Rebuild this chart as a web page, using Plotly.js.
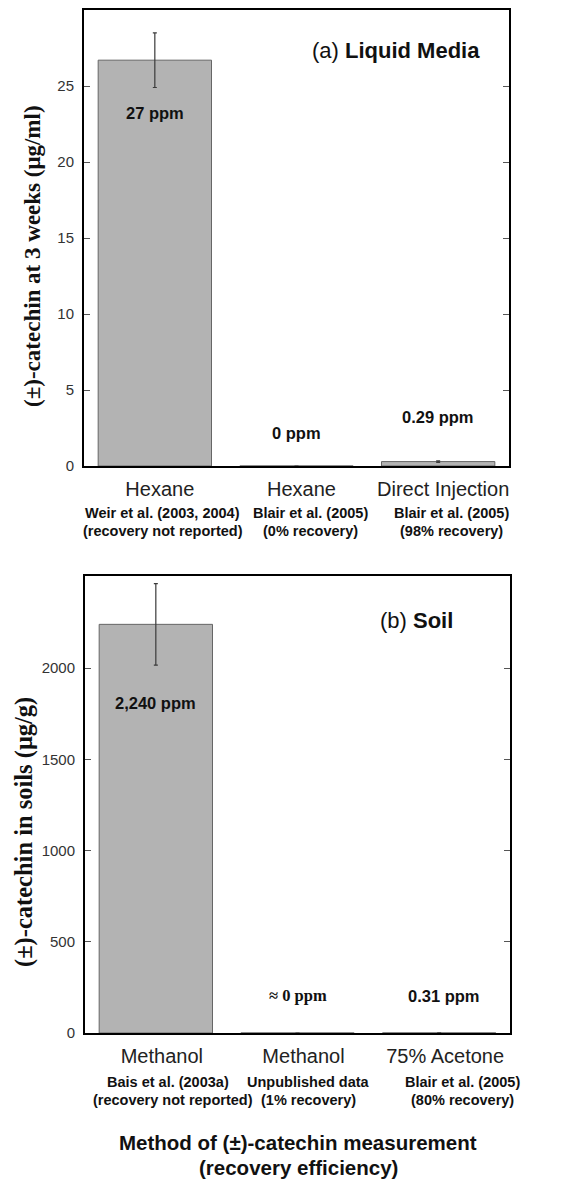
<!DOCTYPE html>
<html>
<head>
<meta charset="utf-8">
<script src="https://cdn.plot.ly/plotly-3.0.1.min.js"></script>
<style>html,body{margin:0;padding:0;background:#fff;}#chart{width:575px;height:1179px;}</style>
</head>
<body>
<div id="chart"></div>
<script>
// ---- Data ----
const positions = [0, 1, 2];

const methodsA = ['Hexane', 'Hexane', 'Direct Injection'];
const sourcesA = ['Weir et al. (2003, 2004)', 'Blair et al. (2005)', 'Blair et al. (2005)'];
const recoveryA = ['(recovery not reported)', '(0% recovery)', '(98% recovery)'];
const valuesA = [26.7, 0, 0.29];
const errorsA = [1.8, 0, 0.05];
const valueLabelsA = ['27 ppm', '0 ppm', '0.29 ppm'];
const yTicksA = [0, 5, 10, 15, 20, 25];

const methodsB = ['Methanol', 'Methanol', '75% Acetone'];
const sourcesB = ['Bais et al. (2003a)', 'Unpublished data', 'Blair et al. (2005)'];
const recoveryB = ['(recovery not reported)', '(1% recovery)', '(80% recovery)'];
const valuesB = [2240, 0, 0.31];
const errorsB = [223, 0, 0];
const valueLabelsB = ['2,240 ppm', '\u2248 0 ppm', '0.31 ppm'];
const yTicksB = [0, 500, 1000, 1500, 2000];

const yTitleA = '(\u00b1)-catechin at 3 weeks (\u03bcg/ml)';
const yTitleB = '(\u00b1)-catechin in soils (\u03bcg/g)';
const panelA = '(a) <b>Liquid Media</b>';
const panelB = '(b) <b>Soil</b>';
const xTitle = ['Method of (\u00b1)-catechin measurement', '(recovery efficiency)'];

// ---- Layout helpers ----
const W = 575, H = 1179;
const px = v => v / W;
const py = v => 1 - v / H;
const SANS = 'Liberation Sans, Arial, sans-serif';
const SERIF = 'Liberation Serif, Times New Roman, serif';

const barStyle = {
  type: 'bar',
  marker: {color: '#b3b3b3', line: {color: '#666', width: 1}},
  width: 0.8,
  showlegend: false,
  hoverinfo: 'skip'
};

const traces = [
  Object.assign({}, barStyle, {
    x: positions, y: valuesA, xaxis: 'x', yaxis: 'y',
    error_y: {type: 'data', array: errorsA, visible: true, color: '#3a3a3a', thickness: 1.2, width: 2}
  }),
  Object.assign({}, barStyle, {
    x: positions, y: valuesB, xaxis: 'x2', yaxis: 'y2',
    error_y: {type: 'data', array: errorsB, visible: true, color: '#3a3a3a', thickness: 1.2, width: 2}
  })
];

function xAxis(domain, labels, shift) {
  return {
    domain: domain, range: [-0.5, 2.5],
    tickvals: positions, ticktext: labels,
    tickfont: {family: SANS, size: 20, color: '#222'},
    ticks: '', showline: true, linecolor: '#000', linewidth: 2, mirror: true,
    showgrid: false, zeroline: false, fixedrange: true,
    ticklabelstandoff: 4, ticklabelshift: shift
  };
}
function yAxis(domain, range, ticks, anchor) {
  return {
    domain: domain, range: range, tickvals: ticks, anchor: anchor,
    ticks: 'inside', ticklen: 6, tickwidth: 1, tickcolor: '#555',
    tickfont: {family: SANS, size: 15, color: '#333'},
    ticklabelstandoff: 5,
    showline: true, linecolor: '#000', linewidth: 2, mirror: 'ticks',
    showgrid: false, zeroline: false, fixedrange: true
  };
}

const annotations = [];
function addAnn(o) {
  annotations.push(Object.assign({showarrow: false, xanchor: 'center', yanchor: 'middle'}, o));
}

// value labels (panel a)
const valPosA = [23.2, 2.2, 3.2];
valueLabelsA.forEach((t, i) => addAnn({xref: 'x', yref: 'y', x: positions[i], y: valPosA[i], text: '<b>' + t + '</b>',
  font: {family: SANS, size: 16.5, color: '#111'}}));
// value labels (panel b)
const valPosB = [1809, 205, 205];
valueLabelsB.forEach((t, i) => addAnn({xref: 'x2', yref: 'y2', x: positions[i], y: valPosB[i], text: '<b>' + t + '</b>',
  xshift: i === 2 ? 5 : 0,
  font: {family: i === 1 ? SERIF : SANS, size: 16.5, color: '#111'}}));

// sub labels
const SUB = {family: SANS, size: 14.5, color: '#111'};
const subShiftA = [8, 14, 13];
sourcesA.forEach((t, i) => {
  addAnn({xref: 'x', yref: 'paper', x: positions[i], y: py(513), xshift: subShiftA[i], text: '<b>' + t + '</b>', font: SUB});
  addAnn({xref: 'x', yref: 'paper', x: positions[i], y: py(531), xshift: subShiftA[i], text: '<b>' + recoveryA[i] + '</b>', font: SUB});
});
const subShiftB = [12, 11, 23];
sourcesB.forEach((t, i) => {
  addAnn({xref: 'x2', yref: 'paper', x: positions[i], y: py(1082), xshift: subShiftB[i], text: '<b>' + t + '</b>', font: SUB});
  addAnn({xref: 'x2', yref: 'paper', x: positions[i], y: py(1100), xshift: subShiftB[i] + (i === 0 ? 5 : 0), text: '<b>' + recoveryB[i] + '</b>', font: SUB});
});

// panel labels
addAnn({xref: 'paper', yref: 'paper', x: px(396), y: py(50), text: panelA, font: {family: SANS, size: 22, color: '#111'}});
addAnn({xref: 'paper', yref: 'paper', x: px(416), y: py(620), text: panelB, font: {family: SANS, size: 22, color: '#111'}});

// y titles
addAnn({xref: 'paper', yref: 'paper', x: px(33), y: py(256), textangle: -90, text: '<b>' + yTitleA + '</b>',
  font: {family: SERIF, size: 23, color: '#111'}});
addAnn({xref: 'paper', yref: 'paper', x: px(24), y: py(832), textangle: -90, text: '<b>' + yTitleB + '</b>',
  font: {family: SERIF, size: 24.5, color: '#111'}});

// x title
addAnn({xref: 'paper', yref: 'paper', x: px(298), y: py(1142), text: '<b>' + xTitle[0] + '</b>', font: {family: SANS, size: 20.5, color: '#111'}});
addAnn({xref: 'paper', yref: 'paper', x: px(298), y: py(1167), text: '<b>' + xTitle[1] + '</b>', font: {family: SANS, size: 20.5, color: '#111'}});

const layout = {
  width: W, height: H,
  margin: {l: 0, r: 0, t: 0, b: 0},
  paper_bgcolor: '#fff', plot_bgcolor: '#fff',
  xaxis: Object.assign(xAxis([px(84), px(509)], methodsA, 5), {anchor: 'y'}),
  yaxis: yAxis([py(466), py(10)], [0, 30], yTicksA, 'x'),
  xaxis2: Object.assign(xAxis([px(85), px(510)], methodsB, 6), {anchor: 'y2'}),
  yaxis2: yAxis([py(1033), py(576)], [0, 2505], yTicksB, 'x2'),
  annotations: annotations,
  showlegend: false
};

Plotly.newPlot('chart', traces, layout, {staticPlot: true, displayModeBar: false});
</script>
</body>
</html>
